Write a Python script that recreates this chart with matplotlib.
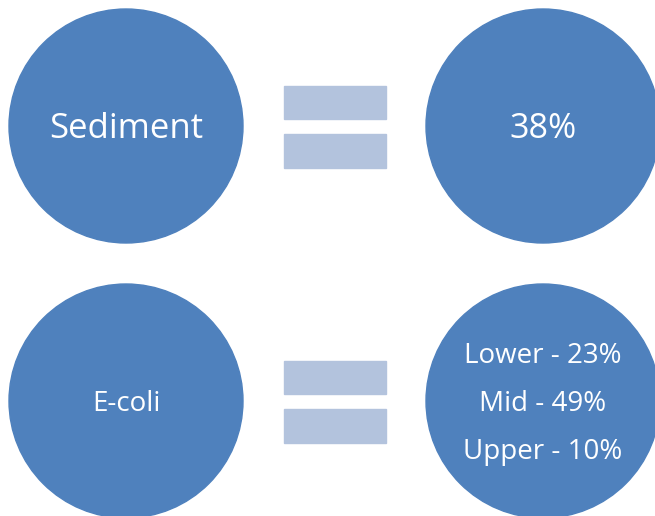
import matplotlib
matplotlib.use("Agg")
import matplotlib.pyplot as plt
from matplotlib.patches import Circle, Rectangle

plt.rcParams['font.family'] = ['Open Sans', 'DejaVu Sans']

# rows of the diagram: left label = right result
left_labels = ["Sediment", "E-coli"]
right_labels = [["38%"], ["Lower - 23%", "Mid - 49%", "Upper - 10%"]]
left_sizes = [25, 20]
right_sizes = [24.5, 20]

CIRCLE = "#4F81BD"
BAR = "#B3C3DD"

fig = plt.figure(figsize=(6.55, 5.16), dpi=100)
ax = fig.add_axes([0, 0, 1, 1])
ax.set_xlim(0, 655); ax.set_ylim(516, 0); ax.set_aspect("equal"); ax.axis("off")

row_y = [126, 401]
r = 117
for i, cy in enumerate(row_y):
    ax.add_patch(Circle((126, cy), r, color=CIRCLE))
    ax.add_patch(Circle((543, cy), r, color=CIRCLE))
    # equals sign
    ax.add_patch(Rectangle((284, cy - 40), 102, 32.5, color=BAR))
    ax.add_patch(Rectangle((284, cy + 8), 102, 33.5, color=BAR))
    # baseline sits about half a cap height below the centre
    ax.text(126, cy + left_sizes[i] * 0.49, left_labels[i], color="white",
            fontsize=left_sizes[i], ha="center", va="baseline")
    lines = right_labels[i]
    gap = 48
    for j, s in enumerate(lines):
        yy = cy + (j - (len(lines) - 1) / 2) * gap + right_sizes[i] * 0.49
        ax.text(543, yy, s, color="white", fontsize=right_sizes[i],
                ha="center", va="baseline")

fig.savefig("out.png", dpi=100)
